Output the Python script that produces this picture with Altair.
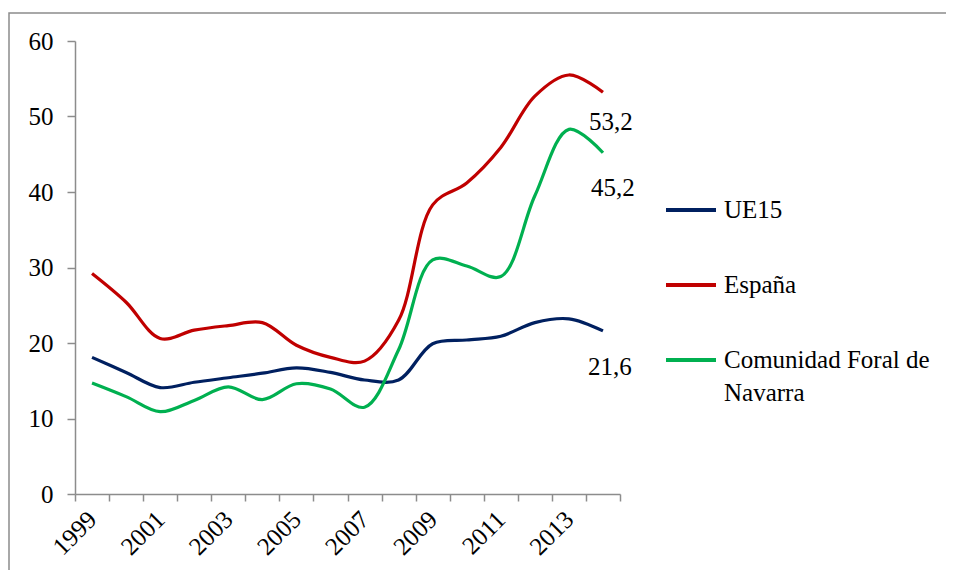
import altair as alt
import pandas as pd

years = list(range(1999, 2015))
series_names = ["UE15", "España", "Comunidad Foral de Navarra"]
ue15 = [18.1, 16.1, 14.1, 14.8, 15.4, 16.0, 16.7, 16.1, 15.1, 15.1, 19.9, 20.4, 20.9, 22.7, 23.2, 21.6]
espana = [29.2, 25.4, 20.6, 21.7, 22.3, 22.7, 19.7, 18.1, 17.6, 23.0, 38.3, 41.2, 45.9, 52.7, 55.5, 53.2]
navarra = [14.7, 12.9, 10.9, 12.4, 14.2, 12.5, 14.6, 13.9, 11.5, 19.1, 31.0, 30.2, 28.8, 39.5, 48.3, 45.2]
colors = ["#002060", "#C00000", "#00B050"]
y_ticks = [0, 10, 20, 30, 40, 50, 60]

rows = []
for name, vals in zip(series_names, [ue15, espana, navarra]):
    for yr, v in zip(years, vals):
        rows.append({"year": yr, "value": v, "serie": name})
df = pd.DataFrame(rows)

FONT = "Liberation Serif"

x_enc = alt.X(
    "year:O",
    bandPosition=0.5,
    scale=alt.Scale(type="band", paddingInner=0, paddingOuter=0),
    axis=alt.Axis(
        title=None,
        tickBand="extent",
        labelAngle=-45,
        labelAlign="right",
        labelBaseline="middle",
        labelExpr="datum.value % 2 == 1 ? datum.label : ''",
        labelOverlap=False,
        labelFont=FONT,
        labelFontSize=25,
        labelColor="black",
        labelPadding=14,
        tickSize=7,
        tickColor="#8c8c8c",
        domainColor="#8c8c8c",
        domainWidth=1.5,
        tickWidth=1.5,
        grid=False,
    ),
)
y_enc = alt.Y(
    "value:Q",
    scale=alt.Scale(domain=[0, 60], nice=False, zero=True),
    axis=alt.Axis(
        title=None,
        values=y_ticks,
        labelFont=FONT,
        labelFontSize=25,
        labelColor="black",
        labelPadding=14,
        tickSize=8,
        tickColor="#8c8c8c",
        domainColor="#8c8c8c",
        domainWidth=1.5,
        tickWidth=1.5,
        grid=False,
    ),
)
color_enc = alt.Color(
    "serie:N",
    scale=alt.Scale(domain=series_names, range=colors),
    sort=series_names,
    legend=alt.Legend(
        title=None,
        orient="none",
        legendX=589,
        legendY=142,
        symbolType="stroke",
        symbolSize=2500,
        symbolStrokeWidth=4,
        labelFont=FONT,
        labelFontSize=25,
        labelColor="black",
        labelOffset=6,
        labelLimit=400,
        rowPadding=35,
        labelExpr="datum.label == 'Comunidad Foral de Navarra' ? ['Comunidad Foral de', 'Navarra'] : datum.label",
    ),
)

lines = alt.Chart(df).mark_line(interpolate="catmull-rom", strokeWidth=3.2).encode(
    x=x_enc, y=y_enc, color=color_enc
)

label_layers = []
offsets = {"UE15": (7, 36), "España": (8, 30), "Comunidad Foral de Navarra": (10, 35)}
for name, vals in zip(series_names, [ue15, espana, navarra]):
    ldf = pd.DataFrame([{"year": years[-1], "value": vals[-1],
                         "txt": f"{vals[-1]:.1f}".replace(".", ",")}])
    dx, dy = offsets[name]
    label_layers.append(
        alt.Chart(ldf).mark_text(font=FONT, fontSize=25, color="black",
                                 align="center", baseline="middle", dx=dx, dy=dy)
        .encode(x=alt.X("year:O", bandPosition=0.5), y="value:Q", text="txt:N")
    )

frame = alt.Chart(alt.Data(values=[{"a": 1}])).mark_rect(
    fillOpacity=0, stroke="#8c8c8c", strokeWidth=1.5
).encode(x=alt.value(-66), x2=alt.value(2000), y=alt.value(-28), y2=alt.value(2000))

chart = (
    alt.layer(frame, lines, *label_layers)
    .properties(
        width=545,
        height=453,
        background="white",
        autosize=alt.AutoSizeParams(type="none"),
        padding={"left": 67, "top": 33, "right": 326, "bottom": 76},
    )
    .configure(
        font=FONT,
        view={"stroke": None},
        axis={"labelFont": FONT},
        legend={"labelFont": FONT},
        text={"font": FONT},
        style={"guide-label": {"font": FONT, "lineHeight": 33}},
    )
)

chart.save("out.html", embed_options={"renderer": "svg", "actions": False})
